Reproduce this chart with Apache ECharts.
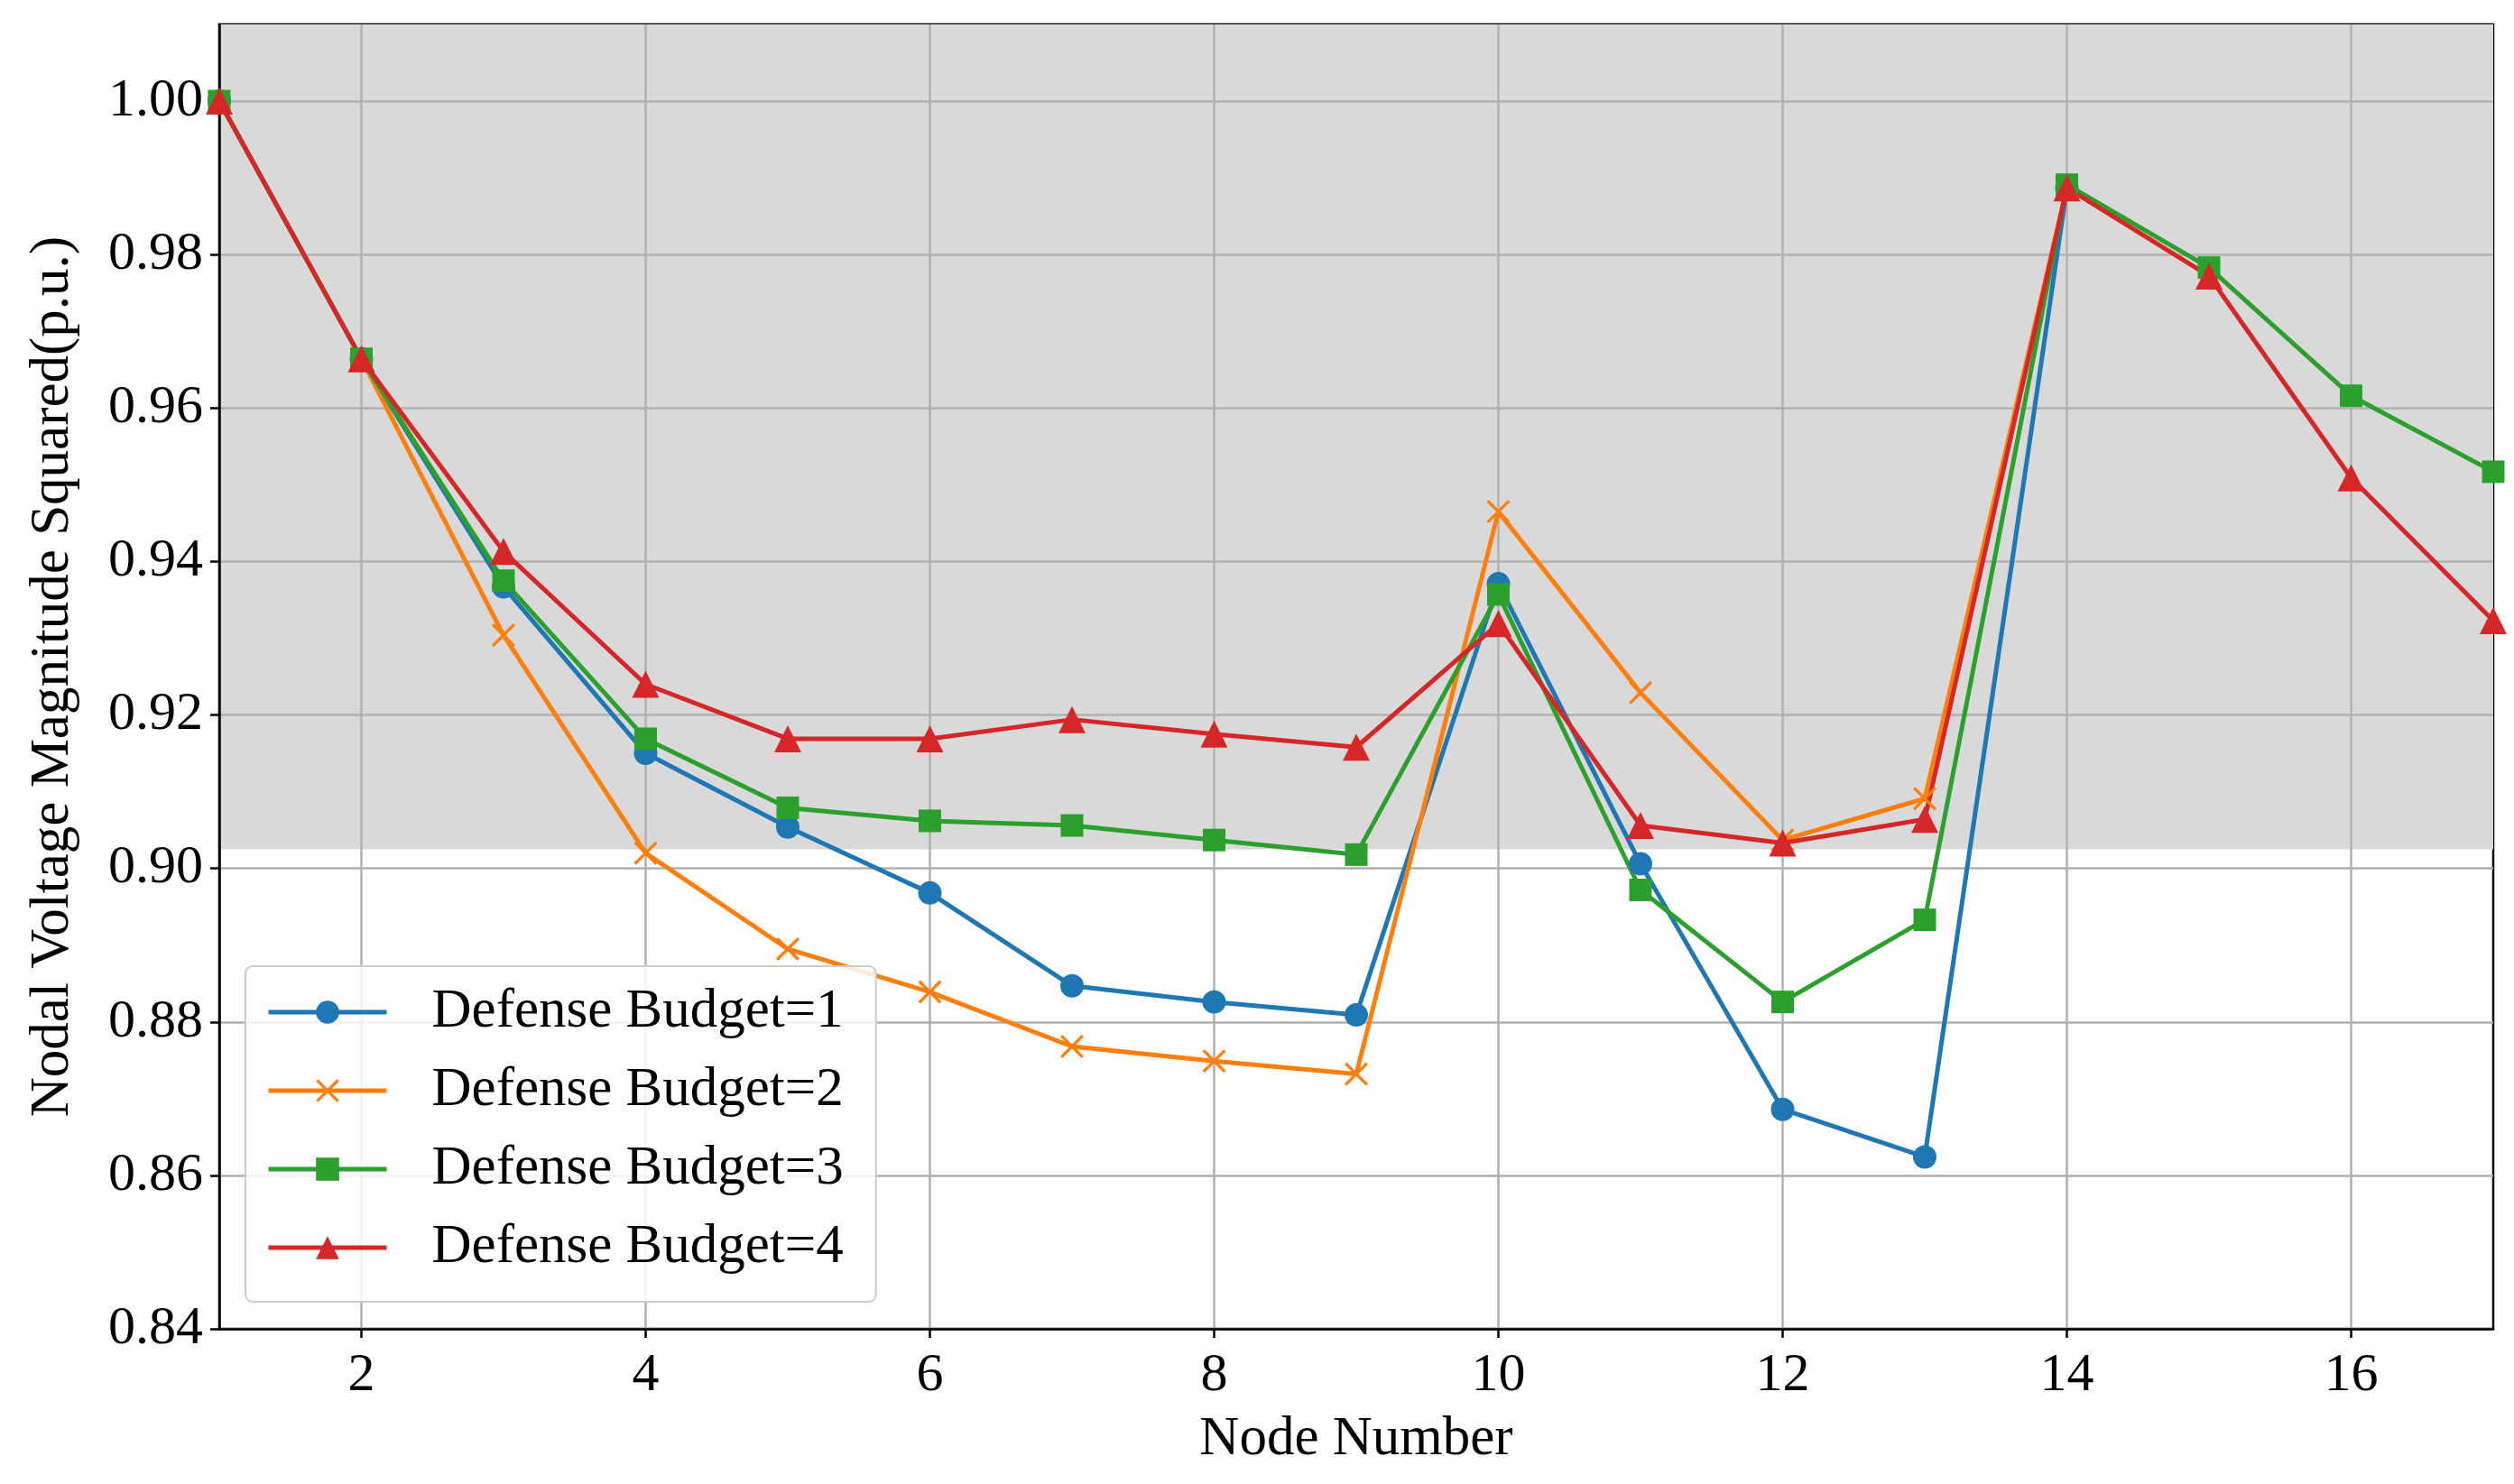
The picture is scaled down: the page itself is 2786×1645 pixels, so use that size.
<!DOCTYPE html>
<html>
<head>
<meta charset="utf-8">
<script src="https://cdn.jsdelivr.net/npm/echarts@6/dist/echarts.min.js"></script>
<style>
html,body{margin:0;padding:0;background:#fff;}
#chart{width:2786px;height:1645px;}
</style>
</head>
<body>
<div id="chart"></div>
<script>
const nodes = [1,2,3,4,5,6,7,8,9,10,11,12,13,14,15,16,17];
const budget1 = [1.000,0.9664,0.9367,0.9150,0.9054,0.8968,0.8847,0.8826,0.8809,0.9371,0.9006,0.8686,0.8624,0.9887,null,null,null];
const budget2 = [1.000,0.9664,0.9304,0.9020,0.8895,0.8839,0.8768,0.8749,0.8732,0.9465,0.9229,0.9037,0.9091,0.9887,null,null,null];
const budget3 = [1.000,0.9664,0.9375,0.9169,0.9079,0.9062,0.9056,0.9037,0.9018,0.9357,0.8972,0.8826,0.8933,0.9891,0.9783,0.9616,0.9517];
const budget4 = [1.000,0.9664,0.9413,0.9240,0.9169,0.9169,0.9194,0.9175,0.9158,0.9319,0.9056,0.9033,0.9064,0.9887,0.9772,0.9509,0.9323];
const seriesNames = ['Defense Budget=1','Defense Budget=2','Defense Budget=3','Defense Budget=4'];
const xTicks = [2,4,6,8,10,12,14,16];
const yTicks = [0.84,0.86,0.88,0.90,0.92,0.94,0.96,0.98,1.00];
const shadeRange = [0.9025, 1.01];

const FONT = '"Liberation Serif","Times New Roman",serif';
const colors = ['#1f77b4','#ff7f0e','#2ca02c','#d62728'];
const xPath = 'path://M0,0.9L0.9,0L5,4.1L9.1,0L10,0.9L5.9,5L10,9.1L9.1,10L5,5.9L0.9,10L0,9.1L4.1,5Z';
const symbols = ['circle', xPath, 'rect', 'triangle'];
const symSizes = [26, 26, 25, 30];
const datas = [budget1, budget2, budget3, budget4];

const chart = echarts.init(document.getElementById('chart'), null, {renderer:'canvas'});

const lineSeries = datas.map((d, i) => ({
  name: seriesNames[i],
  type: 'line',
  z: 3,
  data: nodes.map((n, k) => [n, d[k]]),
  symbol: symbols[i],
  symbolSize: symSizes[i],
  showAllSymbol: true,
  connectNulls: false,
  lineStyle: {color: colors[i], width: 5},
  itemStyle: {color: colors[i]},
  emphasis: {disabled: true},
  animation: false
}));

const shadeSeries = {
  name: 'shade',
  type: 'line',
  z: 1,
  data: [],
  silent: true,
  markArea: {
    silent: true,
    itemStyle: {color: '#d9d9d9'},
    data: [[{yAxis: shadeRange[0]}, {yAxis: shadeRange[1]}]]
  },
  animation: false
};

chart.setOption({
  backgroundColor: '#fff',
  animation: false,
  color: colors,
  grid: {left: 243, right: 23, top: 27, bottom: 172, show: true, borderColor: '#000', borderWidth: 2.5, backgroundColor: 'transparent'},
  legend: {
    data: seriesNames,
    orient: 'vertical',
    left: 272,
    top: 1071,
    itemWidth: 131,
    itemHeight: 32,
    itemGap: 25,
    padding: [20, 36, 29, 23],
    backgroundColor: 'rgba(255,255,255,0.85)',
    borderColor: '#cccccc',
    borderWidth: 2,
    borderRadius: 8,
    lineStyle: {width: 5},
    textStyle: {fontFamily: FONT, fontSize: 61, color: '#000', lineHeight: 62, padding: [0,0,0,45]}
  },
  xAxis: {
    type: 'value',
    min: 1,
    max: 17,
    z: 2,
    name: 'Node Number',
    nameLocation: 'middle',
    nameGap: 92,
    nameTextStyle: {fontFamily: FONT, fontSize: 61, color: '#000'},
    axisLine: {show: true, onZero: false, lineStyle: {color: '#000', width: 2.5}},
    axisTick: {show: true, inside: false, length: 10, lineStyle: {color: '#000', width: 2.5}, customValues: xTicks},
    axisLabel: {fontFamily: FONT, fontSize: 60, color: '#000', margin: 22, customValues: xTicks},
    splitLine: {show: true, lineStyle: {color: '#b0b0b0', width: 2.5}}
  },
  yAxis: {
    type: 'value',
    min: 0.84,
    max: 1.01,
    z: 2,
    name: 'Nodal Voltage Magnitude Squared(p.u.)',
    nameLocation: 'middle',
    nameGap: 154,
    nameTextStyle: {fontFamily: FONT, fontSize: 61, color: '#000'},
    axisLine: {show: true, onZero: false, lineStyle: {color: '#000', width: 2.5}},
    axisTick: {show: true, inside: false, length: 10, lineStyle: {color: '#000', width: 2.5}, customValues: yTicks},
    axisLabel: {fontFamily: FONT, fontSize: 60, color: '#000', margin: 18, customValues: yTicks, formatter: v => v.toFixed(2)},
    splitLine: {show: true, lineStyle: {color: '#b0b0b0', width: 2.5}}
  },
  series: [shadeSeries].concat(lineSeries)
});
</script>
</body>
</html>
